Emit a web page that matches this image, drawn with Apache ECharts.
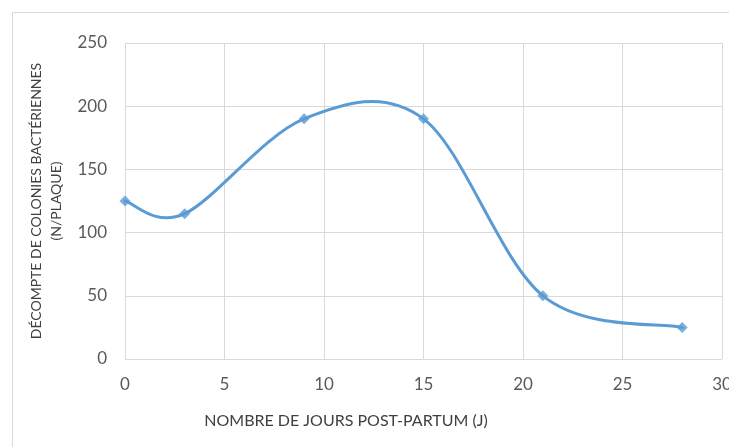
<!DOCTYPE html>
<html><head><meta charset="utf-8">
<script src="https://cdn.jsdelivr.net/npm/echarts@6/dist/echarts.min.js"></script>
<style>html,body{margin:0;padding:0;background:#fff}#c{width:729px;height:447px}</style>
</head><body><div id="c"></div>
<script>
const days = [0, 3, 9, 15, 21, 28];
const counts = [125, 115, 190, 190, 50, 25];
const xTitle = 'NOMBRE DE JOURS POST-PARTUM (J)';
const yTitle = ['DÉCOMPTE DE COLONIES BACTÉRIENNES', '(N/PLAQUE)'];

const chart = echarts.init(document.getElementById('c'));
const font = 'Lato, "Open Sans", sans-serif';
const blue = '#5B9BD5';

// Catmull-Rom style smoothing (like spreadsheet smoothed lines), drawn through the axis scales
function renderCurve(params, api) {
  const pts = days.map((d, i) => api.coord([d, counts[i]]));
  const n = pts.length;
  const children = [];
  for (let i = 0; i < n - 1; i++) {
    const p0 = pts[Math.max(i - 1, 0)], p1 = pts[i], p2 = pts[i + 1], p3 = pts[Math.min(i + 2, n - 1)];
    children.push({
      type: 'bezierCurve',
      shape: {
        x1: p1[0], y1: p1[1], x2: p2[0], y2: p2[1],
        cpx1: p1[0] + (p2[0] - p0[0]) / 6, cpy1: p1[1] + (p2[1] - p0[1]) / 6,
        cpx2: p2[0] - (p3[0] - p1[0]) / 6, cpy2: p2[1] - (p3[1] - p1[1]) / 6
      },
      style: { stroke: blue, lineWidth: 3, fill: null, lineCap: 'round' }
    });
  }
  return { type: 'group', children };
}

chart.setOption({
  animation: false,
  grid: { left: 125, right: 7, top: 43, bottom: 88, containLabel: false, outerBoundsMode: 'none' },
  xAxis: {
    type: 'value', min: 0, max: 30, interval: 5,
    axisLine: { show: false }, axisTick: { show: false },
    splitLine: { show: true, lineStyle: { color: '#d9d9d9', width: 1 } },
    axisLabel: { color: '#595959', fontSize: 17, fontFamily: font, margin: 17 }
  },
  yAxis: {
    type: 'value', min: 0, max: 250, interval: 50,
    axisLine: { show: false }, axisTick: { show: false },
    splitLine: { show: true, lineStyle: { color: '#d9d9d9', width: 1 } },
    axisLabel: { color: '#595959', fontSize: 17, fontFamily: font, margin: 18 }
  },
  graphic: [
    { type: 'rect', shape: { x: 12.5, y: 12.5, width: 730, height: 450 }, style: { fill: 'none', stroke: '#d9d9d9', lineWidth: 1 }, z: -1 },
    { type: 'text', x: 346, y: 421, style: { text: xTitle, fill: '#404040', font: '16px ' + font, textAlign: 'center', textVerticalAlign: 'middle' } },
    { type: 'text', x: 36, y: 201, rotation: Math.PI / 2, style: { text: yTitle[0], fill: '#404040', font: '14px ' + font, textAlign: 'center', textVerticalAlign: 'middle' } },
    { type: 'text', x: 56, y: 201, rotation: Math.PI / 2, style: { text: yTitle[1], fill: '#404040', font: '14px ' + font, textAlign: 'center', textVerticalAlign: 'middle' } }
  ],
  series: [
    { type: 'custom', renderItem: renderCurve, data: [0], silent: true, z: 2 },
    {
      type: 'scatter', z: 3,
      data: days.map((d, i) => [d, counts[i]]),
      symbol: 'diamond', symbolSize: 11,
      itemStyle: { color: blue }
    }
  ]
});
</script></body></html>
